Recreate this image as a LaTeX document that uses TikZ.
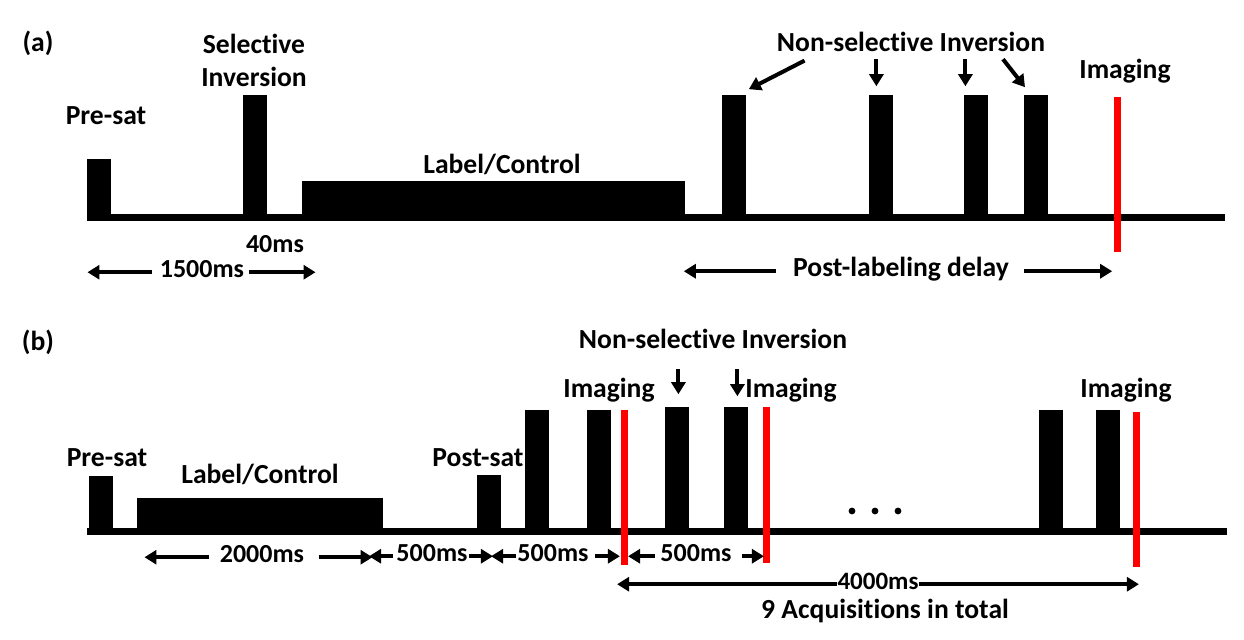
\documentclass[tikz,border=0pt]{standalone}
\usepackage{fontspec}
\setmainfont{Carlito}[Ligatures=NoCommon]
\usetikzlibrary{arrows.meta}

\begin{document}
\begin{tikzpicture}[x=0.5pt,y=-0.5pt,
  lbl/.style={font=\bfseries\fontsize{13.8}{16}\selectfont, anchor=base, inner sep=0pt},
  num/.style={lbl, font=\bfseries\fontsize{13}{15}\selectfont},
  pulse/.style={fill=black, inner sep=0pt, anchor=south west, minimum width=12pt},
  img/.style={red, line width=3.5pt},
  axis/.style={line width=3.5pt},
  dim/.style={line width=2pt, -{Triangle[length=6pt,width=7pt]}}]

  \useasboundingbox[fill=white] (0,0) rectangle (1244,639);

  % (a) Baseline
  \draw[axis] (87,217.5) -- (1225,217.5);

  % (a) Pulses
  \node[pulse, minimum height=29pt] (pA0) at (87,217) {};
  \node[pulse, minimum height=61pt] (sA) at (243,217) {};
  \node[pulse, minimum width=191.5pt, minimum height=18pt] (lcA) at (302,217) {};
  \node[pulse, minimum height=61pt] (nA1) at (722,217) {};
  \node[pulse, minimum height=61pt] (nA2) at (869,217) {};
  \node[pulse, minimum height=61pt] (nA3) at (964,217) {};
  \node[pulse, minimum height=61pt] (nA4) at (1024,217) {};
  \draw[img] (1117,97) -- (1117,252);

  % (a) Labels
  \node[lbl] (tA) at (38,51) {(a)};
  \node[lbl] (tpreA) at (106,124) {Pre-sat};
  \node[lbl] (tselA) at (254,53) {Selective};
  \node[lbl] (tinvA) at (254,86) {Inversion};
  \node[lbl] (tlcA) at (502,173) {Label/Control};
  \node[lbl] (tnsA) at (911,51) {Non-selective Inversion};
  \node[lbl] (timA) at (1125,78) {Imaging};
  \node[num] (t40) at (275,252) {40ms};
  \node[num] (t1500) at (202,277) {1500ms};
  \node[lbl] (tpld) at (901,276) {Post-labeling delay};

  % (a) Pointers
  \draw[dim] ([shift={(28,9)}]tnsA.south west) -- ([shift={(2,-5)}]nA1.north east);
  \draw[dim] ([shift={(-5,-35)}]nA2.north) -- ([shift={(-5,-8)}]nA2.north);
  \draw[dim] ([shift={(-11,-35)}]nA3.north) -- ([shift={(-11,-8)}]nA3.north);
  \draw[dim] ([shift={(-21,-35)}]nA4.north west) -- ([shift={(1,-7)}]nA4.north west);

  % (a) Durations
  \draw[dim] ([xshift=-3.5pt]t1500.mid west) -- ++(-65,0);
  \draw[dim] ([xshift=2pt]t1500.mid east) -- ++(67,0);
  \draw[dim] ([xshift=-8.5pt]tpld.mid west) -- ++(-92,0);
  \draw[dim] ([xshift=7.5pt]tpld.mid east) -- ++(88,0);

  % (b) Baseline
  \draw[axis] (87,531.5) -- (1227,531.5);

  % (b) Pulses
  \node[pulse, minimum height=27.5pt] (pB0) at (89,531) {};
  \node[pulse, minimum width=123pt, minimum height=16.5pt] (lcB) at (137,531) {};
  \node[pulse, minimum height=28pt] (psB) at (477,531) {};
  \node[pulse, minimum height=60.5pt] (b1) at (525,531) {};
  \node[pulse, minimum height=60.5pt] (b2) at (587,531) {};
  \node[pulse, minimum height=62pt] (b3) at (665,531) {};
  \node[pulse, minimum height=62pt] (b4) at (724,531) {};
  \node[pulse, minimum height=60.5pt] (b5) at (1039,531) {};
  \node[pulse, minimum height=60.5pt] (b6) at (1096,531) {};
  \draw[img] (624,410) -- (624,565);
  \draw[img] (766,407) -- (766,563);
  \draw[img] (1136,412) -- (1136,567);
  \foreach \x in {852,875,898}
    \fill (\x,511) circle (1.7pt);

  % (b) Labels
  \node[lbl] (tB) at (38,350) {(b)};
  \node[lbl] (tpreB) at (107,466) {Pre-sat};
  \node[lbl] (tlcB) at (260,483) {Label/Control};
  \node[lbl] (tpsB) at (478,466) {Post-sat};
  \node[lbl] (tnsB) at (713,348) {Non-selective Inversion};
  \node[lbl] (tim1) at (609,397) {Imaging};
  \node[lbl] (tim2) at (791,397) {Imaging};
  \node[lbl] (tim3) at (1126,397) {Imaging};

  % (b) Pointers
  \draw[dim] ([shift={(1,-37)}]b3.north) -- ([shift={(1,-12)}]b3.north);
  \draw[dim] ([shift={(1,-37)}]b4.north) -- ([shift={(1,-10)}]b4.north);

  % (b) Durations
  \node[num] (t2000) at (262,562) {2000ms};
  \node[num] (t500a) at (432,561) {500ms};
  \node[num] (t500b) at (553,561) {500ms};
  \node[num] (t500c) at (696,561) {500ms};
  \node[lbl, font=\bfseries\fontsize{12.5}{14}\selectfont] (t4000) at (878,589) {4000ms};
  \node[lbl] (tacq) at (885,618) {9 Acquisitions in total};
  \draw[dim] ([xshift=-5pt]t2000.mid west) -- ++(-65,0);
  \draw[dim] ([xshift=7pt]t2000.mid east) -- ++(54,0);
  \draw[dim] ([xshift=-1.5pt]t500a.mid west) -- ++(-24,0);
  \draw[dim] ([xshift=0.5pt]t500a.mid east) -- ++(24,0);
  \draw[dim] ([xshift=-0.5pt]t500b.mid west) -- ++(-25,0);
  \draw[dim] ([xshift=3pt]t500b.mid east) -- ++(25,0);
  \draw[dim] ([xshift=-2.5pt]t500c.mid west) -- ++(-27,0);
  \draw[dim] ([xshift=5pt]t500c.mid east) -- ++(22,0);
  \draw[dim] (t4000.mid west) -- ++(-220,0);
  \draw[dim] (t4000.mid east) -- ++(220,0);
\end{tikzpicture}
\end{document}
